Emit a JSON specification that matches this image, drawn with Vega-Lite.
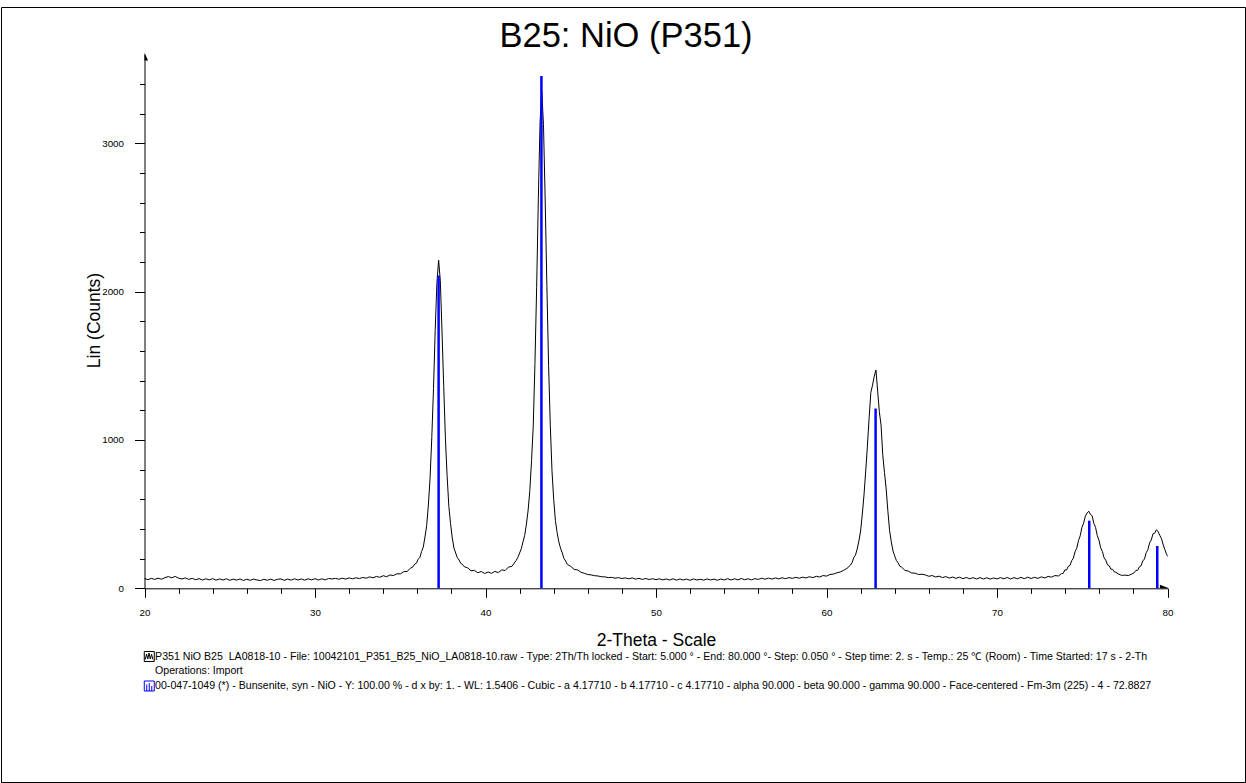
{
  "$schema": "https://vega.github.io/schema/vega-lite/v6.json",
  "width": 1244,
  "height": 775,
  "autosize": {"type": "none"},
  "padding": {"left": 1, "top": 7, "right": 1, "bottom": 1},
  "background": "#ffffff",
  "title": {"text": "B25: NiO (P351)", "font": "Liberation Sans", "fontSize": 34.5, "fontWeight": "normal", "color": "#000000", "anchor": "middle", "frame": "group", "orient": "top", "offset": -74, "baseline": "alphabetic", "dx": 3},
  "datasets": {
    "scan": [
      {"t":20.0,"c":66},{"t":20.2,"c":58},{"t":20.4,"c":67},{"t":20.6,"c":60},{"t":20.8,"c":68},{"t":21.0,"c":61},{"t":21.2,"c":72},{"t":21.4,"c":79},{"t":21.6,"c":71},{"t":21.8,"c":80},
      {"t":22.0,"c":68},{"t":22.2,"c":63},{"t":22.4,"c":70},{"t":22.6,"c":60},{"t":22.8,"c":67},{"t":23.0,"c":58},{"t":23.2,"c":65},{"t":23.4,"c":56},{"t":23.6,"c":64},{"t":23.8,"c":57},
      {"t":24.0,"c":65},{"t":24.2,"c":55},{"t":24.4,"c":63},{"t":24.6,"c":56},{"t":24.8,"c":64},{"t":25.0,"c":54},{"t":25.2,"c":62},{"t":25.4,"c":55},{"t":25.6,"c":63},{"t":25.8,"c":53},
      {"t":26.0,"c":61},{"t":26.2,"c":54},{"t":26.4,"c":62},{"t":26.6,"c":56},{"t":26.8,"c":52},{"t":27.0,"c":61},{"t":27.2,"c":54},{"t":27.4,"c":62},{"t":27.6,"c":53},{"t":27.8,"c":61},
      {"t":28.0,"c":63},{"t":28.2,"c":54},{"t":28.4,"c":62},{"t":28.6,"c":55},{"t":28.8,"c":64},{"t":29.0,"c":56},{"t":29.2,"c":63},{"t":29.4,"c":55},{"t":29.6,"c":64},{"t":29.8,"c":57},
      {"t":30.0,"c":65},{"t":30.2,"c":56},{"t":30.4,"c":64},{"t":30.6,"c":57},{"t":30.8,"c":66},{"t":31.0,"c":63},{"t":31.2,"c":67},{"t":31.4,"c":61},{"t":31.6,"c":68},{"t":31.8,"c":62},
      {"t":32.0,"c":70},{"t":32.2,"c":64},{"t":32.4,"c":71},{"t":32.6,"c":66},{"t":32.8,"c":73},{"t":33.0,"c":68},{"t":33.2,"c":77},{"t":33.4,"c":71},{"t":33.6,"c":80},{"t":33.8,"c":74},
      {"t":34.0,"c":85},{"t":34.2,"c":78},{"t":34.4,"c":90},{"t":34.6,"c":86},{"t":34.8,"c":98},{"t":35.0,"c":97},{"t":35.2,"c":112},{"t":35.4,"c":114},{"t":35.6,"c":135},
      {"t":35.75,"c":145},{"t":35.85,"c":164},{"t":35.95,"c":169},{"t":36.05,"c":196},{"t":36.15,"c":208},{"t":36.25,"c":248},{"t":36.35,"c":278},{"t":36.45,"c":346},{"t":36.55,"c":423},{"t":36.65,"c":562},
      {"t":36.75,"c":745},{"t":36.85,"c":1016},{"t":36.95,"c":1346},{"t":37.05,"c":1738},{"t":37.15,"c":2060},{"t":37.25,"c":2212},{"t":37.35,"c":2075},{"t":37.45,"c":1728},{"t":37.55,"c":1360},{"t":37.65,"c":1006},
      {"t":37.75,"c":756},{"t":37.85,"c":553},{"t":37.95,"c":436},{"t":38.05,"c":340},{"t":38.15,"c":272},{"t":38.25,"c":238},{"t":38.35,"c":206},{"t":38.45,"c":191},{"t":38.55,"c":168},{"t":38.65,"c":161},
      {"t":38.75,"c":146},{"t":38.95,"c":138},{"t":39.15,"c":118},{"t":39.35,"c":121},{"t":39.55,"c":105},{"t":39.75,"c":113},{"t":39.95,"c":100},{"t":40.15,"c":110},{"t":40.35,"c":101},{"t":40.55,"c":114},
      {"t":40.75,"c":106},{"t":40.95,"c":124},{"t":41.15,"c":120},{"t":41.35,"c":143},{"t":41.55,"c":148},
      {"t":41.8,"c":188},{"t":41.9,"c":209},{"t":42.0,"c":238},{"t":42.1,"c":267},{"t":42.2,"c":313},{"t":42.3,"c":357},{"t":42.4,"c":433},{"t":42.5,"c":527},{"t":42.6,"c":660},{"t":42.7,"c":860},
      {"t":42.8,"c":1093},{"t":42.9,"c":1516},{"t":43.0,"c":2030},{"t":43.1,"c":2630},{"t":43.2,"c":3142},{"t":43.3,"c":3352},{"t":43.4,"c":3128},{"t":43.5,"c":2618},{"t":43.6,"c":2041},{"t":43.7,"c":1503},
      {"t":43.8,"c":1100},{"t":43.9,"c":792},{"t":44.0,"c":599},{"t":44.1,"c":457},{"t":44.2,"c":376},{"t":44.3,"c":313},{"t":44.4,"c":271},{"t":44.5,"c":239},{"t":44.6,"c":201},{"t":44.7,"c":184},
      {"t":44.8,"c":161},{"t":45.0,"c":148},{"t":45.2,"c":127},{"t":45.4,"c":124},{"t":45.6,"c":108},{"t":45.8,"c":101},{"t":46.0,"c":93},{"t":46.2,"c":90},{"t":46.4,"c":85},{"t":46.6,"c":83},
      {"t":46.8,"c":78},{"t":47.0,"c":77},{"t":47.2,"c":72},{"t":47.4,"c":74},{"t":47.6,"c":68},{"t":47.8,"c":72},{"t":48.0,"c":66},{"t":48.2,"c":70},{"t":48.4,"c":64},{"t":48.6,"c":70},
      {"t":48.8,"c":62},{"t":49.0,"c":67},{"t":49.2,"c":60},{"t":49.4,"c":66},{"t":49.6,"c":59},{"t":49.8,"c":65},{"t":50.0,"c":58},{"t":50.2,"c":64},{"t":50.4,"c":57},{"t":50.6,"c":63},
      {"t":50.8,"c":56},{"t":51.0,"c":64},{"t":51.2,"c":55},{"t":51.4,"c":63},{"t":51.6,"c":56},{"t":51.8,"c":62},{"t":52.0,"c":54},{"t":52.2,"c":63},{"t":52.4,"c":56},{"t":52.6,"c":61},
      {"t":52.8,"c":55},{"t":53.0,"c":63},{"t":53.2,"c":56},{"t":53.4,"c":62},{"t":53.6,"c":54},{"t":53.8,"c":63},{"t":54.0,"c":56},{"t":54.2,"c":65},{"t":54.4,"c":56},{"t":54.6,"c":64},
      {"t":54.8,"c":57},{"t":55.0,"c":66},{"t":55.2,"c":58},{"t":55.4,"c":64},{"t":55.6,"c":57},{"t":55.8,"c":65},{"t":56.0,"c":60},{"t":56.2,"c":68},{"t":56.4,"c":61},{"t":56.6,"c":69},
      {"t":56.8,"c":62},{"t":57.0,"c":70},{"t":57.2,"c":64},{"t":57.4,"c":71},{"t":57.6,"c":65},{"t":57.8,"c":72},{"t":58.0,"c":67},{"t":58.2,"c":74},{"t":58.4,"c":68},{"t":58.6,"c":75},
      {"t":58.8,"c":70},{"t":59.0,"c":78},{"t":59.2,"c":72},{"t":59.4,"c":81},{"t":59.6,"c":76},{"t":59.8,"c":86},{"t":60.0,"c":82},{"t":60.2,"c":93},{"t":60.4,"c":96},{"t":60.6,"c":104},
      {"t":60.8,"c":110},{"t":61.0,"c":121},{"t":61.2,"c":134},{"t":61.4,"c":156},{"t":61.5,"c":173},{"t":61.6,"c":208},{"t":61.7,"c":224},{"t":61.8,"c":265},{"t":61.9,"c":319},{"t":62.0,"c":387},
      {"t":62.1,"c":500},{"t":62.2,"c":630},{"t":62.3,"c":790},{"t":62.4,"c":960},{"t":62.5,"c":1150},{"t":62.6,"c":1320},{"t":62.7,"c":1370},{"t":62.8,"c":1430},{"t":62.9,"c":1472},{"t":63.0,"c":1330},
      {"t":63.1,"c":1190},{"t":63.2,"c":1100},{"t":63.3,"c":900},{"t":63.4,"c":780},{"t":63.5,"c":670},{"t":63.6,"c":520},{"t":63.7,"c":390},{"t":63.8,"c":313},{"t":63.9,"c":252},{"t":64.0,"c":218},
      {"t":64.1,"c":187},{"t":64.2,"c":171},{"t":64.3,"c":149},{"t":64.4,"c":143},{"t":64.6,"c":121},{"t":64.8,"c":116},{"t":65.0,"c":103},{"t":65.2,"c":102},{"t":65.4,"c":93},{"t":65.6,"c":95},
      {"t":65.8,"c":90},{"t":66.0,"c":81},{"t":66.2,"c":86},{"t":66.4,"c":76},{"t":66.6,"c":82},{"t":66.8,"c":72},{"t":67.0,"c":79},{"t":67.2,"c":69},{"t":67.4,"c":76},{"t":67.6,"c":67},
      {"t":67.8,"c":75},{"t":68.0,"c":65},{"t":68.2,"c":73},{"t":68.4,"c":64},{"t":68.6,"c":72},{"t":68.8,"c":63},{"t":69.0,"c":72},{"t":69.2,"c":63},{"t":69.4,"c":71},{"t":69.6,"c":62},
      {"t":69.8,"c":70},{"t":70.0,"c":63},{"t":70.2,"c":72},{"t":70.4,"c":64},{"t":70.6,"c":73},{"t":70.8,"c":63},{"t":71.0,"c":72},{"t":71.2,"c":64},{"t":71.4,"c":74},{"t":71.6,"c":65},
      {"t":71.8,"c":75},{"t":72.0,"c":66},{"t":72.2,"c":74},{"t":72.4,"c":67},{"t":72.6,"c":77},{"t":72.8,"c":70},{"t":73.0,"c":80},{"t":73.2,"c":75},{"t":73.4,"c":86},{"t":73.6,"c":83},
      {"t":73.78,"c":99},{"t":73.88,"c":100},{"t":73.98,"c":124},{"t":74.08,"c":123},{"t":74.18,"c":148},{"t":74.28,"c":154},{"t":74.38,"c":186},{"t":74.48,"c":203},{"t":74.58,"c":247},{"t":74.68,"c":271},
      {"t":74.78,"c":322},{"t":74.88,"c":354},{"t":74.98,"c":411},{"t":75.08,"c":439},{"t":75.18,"c":486},{"t":75.28,"c":507},{"t":75.38,"c":520},{"t":75.48,"c":498},{"t":75.58,"c":489},{"t":75.68,"c":438},
      {"t":75.78,"c":411},{"t":75.88,"c":356},{"t":75.98,"c":325},{"t":76.08,"c":273},{"t":76.18,"c":249},{"t":76.28,"c":206},{"t":76.38,"c":190},{"t":76.48,"c":158},{"t":76.58,"c":152},{"t":76.68,"c":129},
      {"t":76.78,"c":128},{"t":76.88,"c":111},{"t":76.98,"c":108},{"t":77.1,"c":98},{"t":77.3,"c":87},{"t":77.5,"c":89},{"t":77.7,"c":86},{"t":77.9,"c":96},
      {"t":78.05,"c":105},{"t":78.15,"c":121},{"t":78.25,"c":122},{"t":78.35,"c":145},{"t":78.45,"c":152},{"t":78.55,"c":184},{"t":78.65,"c":198},{"t":78.75,"c":240},{"t":78.85,"c":260},{"t":78.95,"c":307},
      {"t":79.05,"c":326},{"t":79.15,"c":368},{"t":79.25,"c":372},{"t":79.35,"c":395},{"t":79.45,"c":381},{"t":79.55,"c":357},{"t":79.65,"c":334},{"t":79.75,"c":292},{"t":79.85,"c":260},{"t":79.95,"c":228},
      {"t":80.0,"c":216}
    ],
    "ref": [
      {"t":37.25,"c":2110},{"t":43.28,"c":3455},{"t":62.88,"c":1212},{"t":75.41,"c":456},{"t":79.40,"c":285}
    ],
    "arrows": [
      {"t":20,"c":3600,"dir":"up"},{"t":80,"c":0,"dir":"right"}
    ],
    "legend": [
      {"line":1,"icon":"scan","label":"P351 NiO B25\u00a0 LA0818-10 - File: 10042101_P351_B25_NiO_LA0818-10.raw - Type: 2Th/Th locked - Start: 5.000 ° - End: 80.000 °- Step: 0.050 ° - Step time: 2. s - Temp.: 25 ℃ (Room) - Time Started: 17 s - 2-Th"},
      {"line":2,"icon":"none","label":"Operations: Import"},
      {"line":3,"icon":"ref","label":"00-047-1049 (*) - Bunsenite, syn - NiO - Y: 100.00 % - d x by: 1. - WL: 1.5406 - Cubic - a 4.17710 - b 4.17710 - c 4.17710 - alpha 90.000 - beta 90.000 - gamma 90.000 - Face-centered - Fm-3m (225) - 4 - 72.8827"}
    ]
  },
  "layer": [
    {
      "layer": [
        {
          "data": {"name": "scan"},
          "mark": {"type": "line", "color": "#000000", "strokeWidth": 1},
          "encoding": {
            "x": {
              "field": "t", "type": "quantitative",
              "scale": {"domain": [20, 80], "range": [143.5, 1166.5], "nice": false, "zero": false},
              "axis": {
                "title": "2-Theta - Scale", "orient": "bottom", "offset": -193.7,
                "values": [20,21,22,23,24,25,26,27,28,29,30,31,32,33,34,35,36,37,38,39,40,41,42,43,44,45,46,47,48,49,50,51,52,53,54,55,56,57,58,59,60,61,62,63,64,65,66,67,68,69,70,71,72,73,74,75,76,77,78,79,80],
                "format": "d",
                "labelExpr": "datum.value % 10 === 0 ? datum.label : ''",
                "labelFlush": false, "labelOverlap": false, "labelFontSize": 9.8, "labelPadding": 10,
                "tickSize": {"condition": [{"test": "datum.value % 10 === 0", "value": 9}, {"test": "datum.value % 5 === 0", "value": 7}], "value": 5},
                "titleFontSize": 17.5, "titleY": 56.7, "titleBaseline": "alphabetic"
              }
            },
            "y": {
              "field": "c", "type": "quantitative",
              "scale": {"domain": [0, 3600], "range": [581.3, 47.4], "nice": false, "zero": false},
              "axis": {
                "title": "Lin (Counts)", "orient": "left", "offset": -143.5,
                "values": [0,100,200,300,400,500,600,700,800,900,1000,1100,1200,1300,1400,1500,1600,1700,1800,1900,2000,2100,2200,2300,2400,2500,2600,2700,2800,2900,3000,3100,3200,3300,3400,3500],
                "format": "d",
                "labelExpr": "datum.value % 1000 === 0 ? datum.label : ''",
                "labelOverlap": false, "labelFontSize": 9.8, "labelPadding": 11,
                "tickSize": {"condition": {"test": "datum.value % 1000 === 0", "value": 10}, "value": 5},
                "titleFontSize": 17.5, "titleX": -50.5, "titleY": 313, "titleBaseline": "middle", "titleAlign": "center", "titleAngle": -90
              }
            }
          }
        },
        {
          "data": {"name": "ref"},
          "mark": {"type": "rule", "color": "#0000ff", "strokeWidth": 2.5},
          "encoding": {
            "x": {"field": "t", "type": "quantitative"},
            "y": {"field": "c", "type": "quantitative"},
            "y2": {"datum": 0}
          }
        },
        {
          "data": {"name": "arrows"},
          "transform": [{"filter": "datum.dir === 'up'"}],
          "mark": {"type": "point", "filled": true, "size": 64, "opacity": 1, "strokeWidth": 0, "color": "#000000", "shape": "M0,-0.4L0.9,1.5L0,1.5Z"},
          "encoding": {
            "x": {"field": "t", "type": "quantitative"},
            "y": {"field": "c", "type": "quantitative"}
          }
        },
        {
          "data": {"name": "arrows"},
          "transform": [{"filter": "datum.dir === 'right'"}],
          "mark": {"type": "point", "filled": true, "size": 64, "opacity": 1, "strokeWidth": 0, "color": "#000000", "shape": "M0.4,0L-1.9,0L-1.9,-0.9Z"},
          "encoding": {
            "x": {"field": "t", "type": "quantitative"},
            "y": {"field": "c", "type": "quantitative"}
          }
        }
      ]
    },
    {
      "layer": [
        {
          "data": {"name": "legend"},
          "mark": {"type": "text", "align": "left", "baseline": "middle", "font": "Liberation Sans", "fontSize": 10.6, "color": "#000000"},
          "encoding": {
            "x": {"datum": 20.62},
            "y": {"field": "line", "type": "quantitative", "scale": {"domain": [1, 3], "range": [649.5, 679], "nice": false, "zero": false}, "axis": null},
            "text": {"field": "label"}
          }
        },
        {
          "data": {"name": "legend"},
          "transform": [{"filter": "datum.icon === 'scan'"}],
          "mark": {"type": "point", "filled": false, "size": 100, "opacity": 1, "strokeWidth": 1, "stroke": "#000000", "shape": "M-1,-1L1,-1L1,1L-1,1ZM-0.8,0.6L-0.55,-0.5L-0.3,0.5L-0.05,-0.7L0.2,0.5L0.45,-0.4L0.75,0.6"},
          "encoding": {
            "x": {"datum": 20.28},
            "y": {"field": "line", "type": "quantitative", "scale": {"domain": [1, 3], "range": [649.5, 679], "nice": false, "zero": false}, "axis": null}
          }
        },
        {
          "data": {"name": "legend"},
          "transform": [{"filter": "datum.icon === 'ref'"}],
          "mark": {"type": "point", "filled": false, "size": 100, "opacity": 1, "strokeWidth": 1, "stroke": "#0000ff", "shape": "M-1,-1L1,-1L1,1L-1,1ZM-0.5,1L-0.5,-0.3M0,1L0,-0.6M0.5,1L0.5,0"},
          "encoding": {
            "x": {"datum": 20.28},
            "y": {"field": "line", "type": "quantitative", "scale": {"domain": [1, 3], "range": [649.5, 679], "nice": false, "zero": false}, "axis": null}
          }
        }
      ]
    }
  ],
  "resolve": {"scale": {"y": "independent"}, "axis": {"y": "independent"}},
  "config": {
    "view": {"stroke": "#000000", "strokeWidth": 1},
    "axis": {"grid": false, "domainColor": "#000000", "domainWidth": 1, "tickColor": "#000000", "tickWidth": 1, "labelColor": "#000000", "titleColor": "#000000", "labelFont": "Liberation Sans", "titleFont": "Liberation Sans", "titleFontWeight": "normal"},
    "title": {"font": "Liberation Sans"}
  }
}
